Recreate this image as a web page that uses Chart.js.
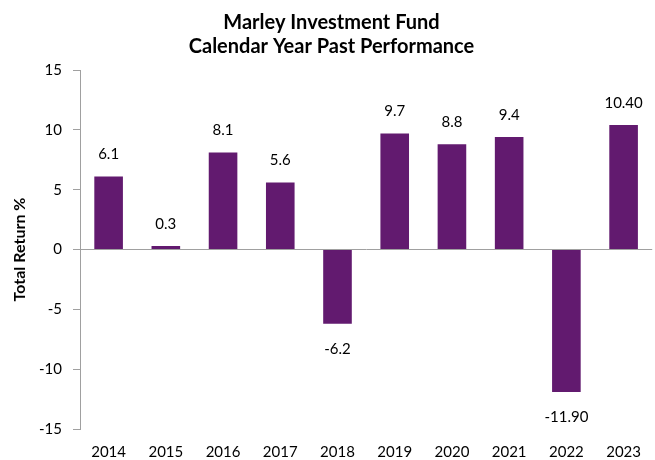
<!DOCTYPE html>
<html>
<head>
<meta charset="utf-8">
<script src="https://cdn.jsdelivr.net/npm/chart.js@4"></script>
<style>
  html, body { margin: 0; padding: 0; background: #fff; }
  #wrap { width: 655px; height: 460px; }
</style>
</head>
<body>
<div id="wrap"><canvas id="perf"></canvas></div>
<script>
const years = ["2014", "2015", "2016", "2017", "2018", "2019", "2020", "2021", "2022", "2023"];
const returns = [6.1, 0.3, 8.1, 5.6, -6.2, 9.7, 8.8, 9.4, -11.9, 10.4];
const returnLabels = ["6.1", "0.3", "8.1", "5.6", "-6.2", "9.7", "8.8", "9.4", "-11.90", "10.40"];

const fontFamily = "Lato, 'Open Sans', sans-serif";

// draw the value above positive bars and below negative ones
const valueLabels = {
  id: "valueLabels",
  afterDatasetsDraw(chart) {
    const { ctx } = chart;
    const meta = chart.getDatasetMeta(0);
    ctx.save();
    ctx.font = "15px " + fontFamily;
    ctx.fillStyle = "#000";
    ctx.textAlign = "center";
    ctx.textBaseline = "middle";
    meta.data.forEach((bar, i) => {
      const v = returns[i];
      const y = v >= 0 ? bar.y - 22 : bar.y + 25;
      ctx.fillText(returnLabels[i], bar.x, y);
    });
    ctx.restore();
  },
};

new Chart(document.getElementById("perf"), {
  type: "bar",
  data: {
    labels: years,
    datasets: [
      {
        data: returns,
        backgroundColor: "#621a6f",
        barPercentage: 0.5,
        categoryPercentage: 1,
      },
    ],
  },
  options: {
    responsive: true,
    maintainAspectRatio: false,
    animation: false,
    layout: {
      padding: { left: 0, right: -8, top: 0, bottom: 0 },
    },
    plugins: {
      legend: { display: false },
      tooltip: { enabled: false },
      title: {
        display: true,
        text: ["Marley Investment Fund", "Calendar Year Past Performance"],
        color: "#000",
        font: { family: fontFamily, size: 20, weight: "bold", lineHeight: 1.2 },
        padding: { top: 11, bottom: 11 },
      },
    },
    scales: {
      x: {
        afterFit: (scale) => {
          scale.height = 31;
        },
        grid: { display: false, drawTicks: false },
        border: { display: false },
        ticks: {
          color: "#000",
          padding: 14,
          maxRotation: 0,
          font: { family: fontFamily, size: 15 },
        },
      },
      y: {
        min: -15,
        max: 15,
        afterFit: (scale) => {
          scale.width = 80;
        },
        ticks: {
          stepSize: 5,
          color: "#000",
          padding: 11,
          font: { family: fontFamily, size: 15 },
        },
        grid: {
          color: (c) => (c.tick && c.tick.value === 0 ? "#a0a0a0" : "transparent"),
          tickColor: "#a0a0a0",
          tickLength: 7,
          lineWidth: 1,
        },
        border: { color: "#a0a0a0" },
        title: {
          display: true,
          text: "Total Return %",
          color: "#000",
          font: { family: fontFamily, size: 16, weight: "bold" },
          padding: { top: 10, bottom: 0 },
        },
      },
    },
  },
  plugins: [valueLabels],
});
</script>
</body>
</html>
